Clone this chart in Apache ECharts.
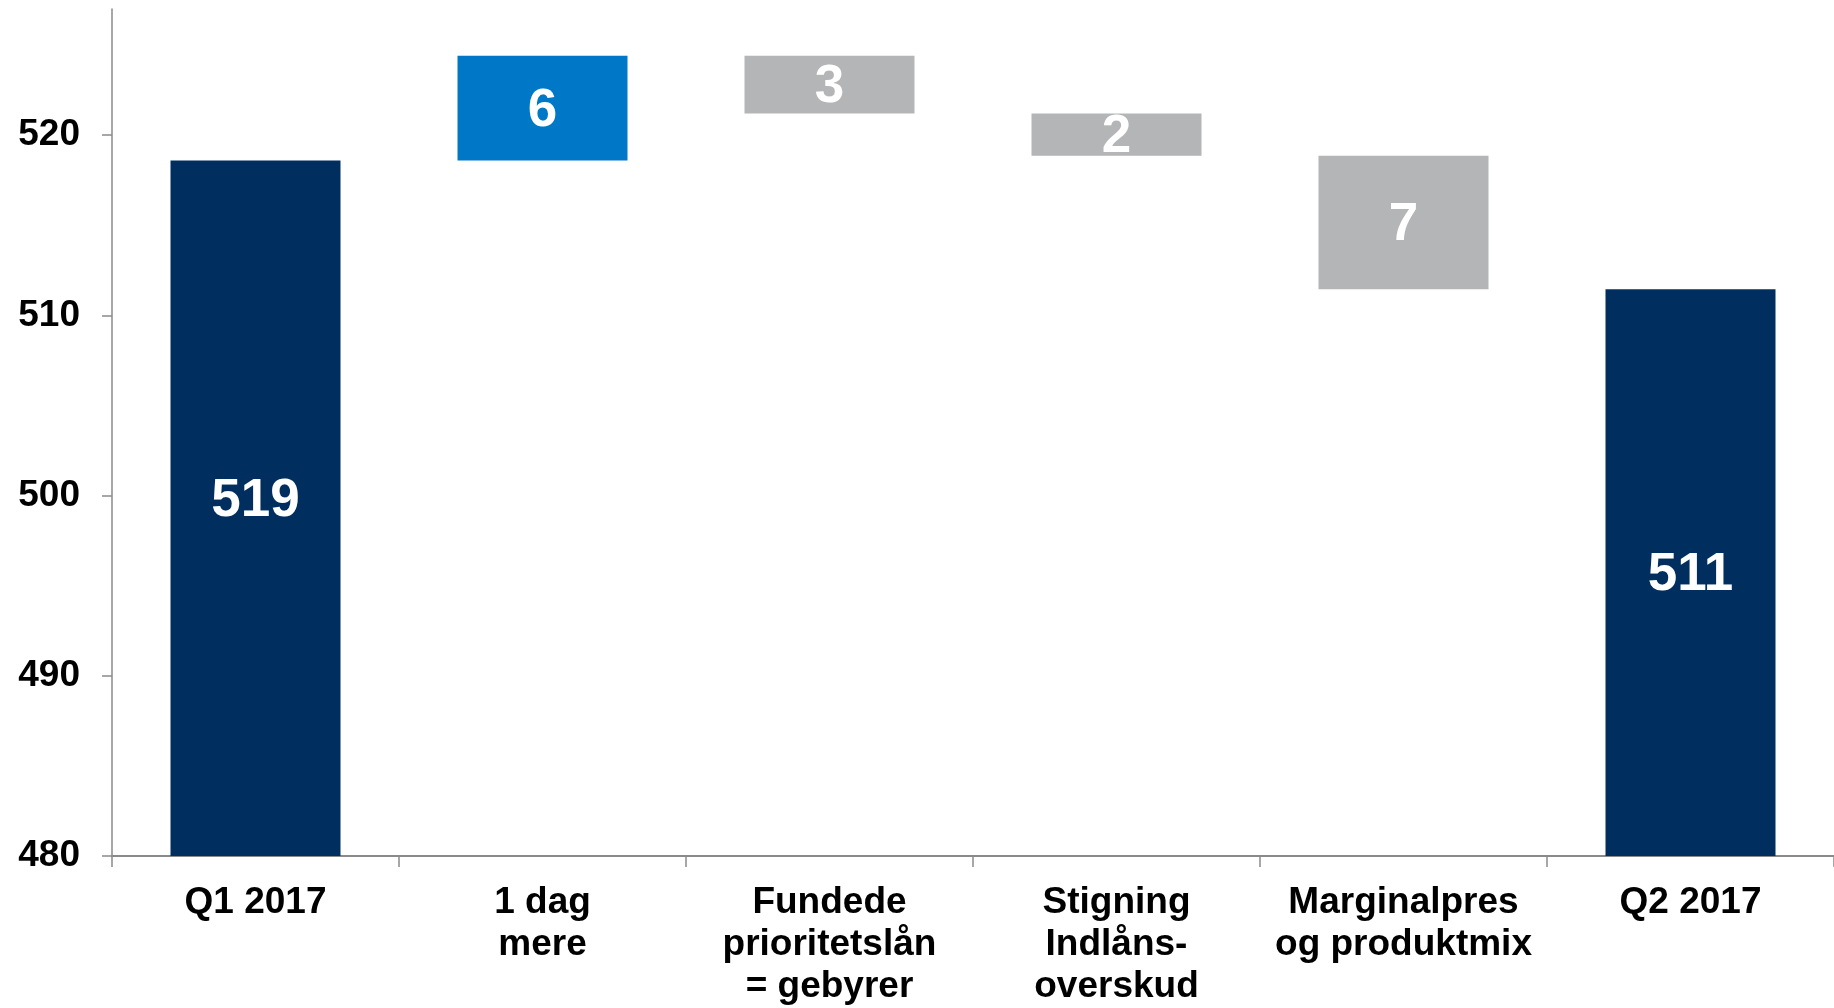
<!DOCTYPE html>
<html>
<head>
<meta charset="utf-8">
<script src="https://cdn.jsdelivr.net/npm/echarts@6/dist/echarts.min.js"></script>
<style>
html,body{margin:0;padding:0;background:#fff;}
#chart{width:1834px;height:1008px;}
</style>
</head>
<body>
<div id="chart"></div>
<script>
// Data
var categories = ['Q1 2017', '1 dag\nmere', 'Fundede\nprioritetslån\n= gebyrer', 'Stigning\nIndlåns-\noverskud', 'Marginalpres\nog produktmix', 'Q2 2017'];
var startTotal = 518.6;
var changes = [5.8, -3.2, -2.35, -7.4];
var endTotal = 511.45;
var valueLabels = ['519', '6', '3', '2', '7', '511'];
var yTicks = [480, 490, 500, 510, 520];

var NAVY = '#002F5F', BLUE = '#0078C8', GREY = '#B4B5B7';

var baseData = [0];
var barData = [{ value: startTotal, itemStyle: { color: NAVY }, label: { offset: [0, -7] } }];
var running = startTotal;
changes.forEach(function (c, i) {
  var lo = c >= 0 ? running : running + c;
  baseData.push(lo);
  barData.push({ value: Math.abs(c), itemStyle: { color: i === 0 ? BLUE : GREY } });
  running += c;
});
baseData.push(0);
barData.push({ value: endTotal, itemStyle: { color: NAVY } });

var FONT = '"Liberation Sans", Arial, sans-serif';
var chart = echarts.init(document.getElementById('chart'));
chart.setOption({
  animation: false,
  backgroundColor: '#fff',
  grid: { left: 112, width: 1728, top: 9, height: 848, containLabel: false },
  xAxis: {
    type: 'category',
    data: categories,
    axisLine: { lineStyle: { color: '#8A8A8A', width: 2 } },
    axisTick: { show: true, length: 11, lineStyle: { color: '#8A8A8A', width: 1.5 } },
    axisLabel: {
      interval: 0, margin: 26, color: '#000', fontFamily: FONT, fontWeight: 'bold',
      fontSize: 37, lineHeight: 42
    }
  },
  yAxis: {
    type: 'value',
    min: 480, max: 527,
    splitLine: { show: false },
    axisLine: { show: true, lineStyle: { color: '#8A8A8A', width: 1.5 } },
    axisTick: { show: true, length: 10, customValues: yTicks, lineStyle: { color: '#8A8A8A', width: 1.5 } },
    axisLabel: {
      customValues: yTicks, margin: 32, color: '#000', fontFamily: FONT,
      fontWeight: 'bold', fontSize: 37
    }
  },
  series: [
    {
      type: 'bar', stack: 'wf', data: baseData, barWidth: 170,
      itemStyle: { color: 'rgba(0,0,0,0)' }, silent: true
    },
    {
      type: 'bar', stack: 'wf', data: barData, barWidth: 170,
      label: {
        show: true, position: 'inside', color: '#fff', fontFamily: FONT,
        fontWeight: 'bold', fontSize: 53, offset: [0, 3],
        formatter: function (p) { return valueLabels[p.dataIndex]; }
      }
    }
  ]
});
</script>
</body>
</html>
